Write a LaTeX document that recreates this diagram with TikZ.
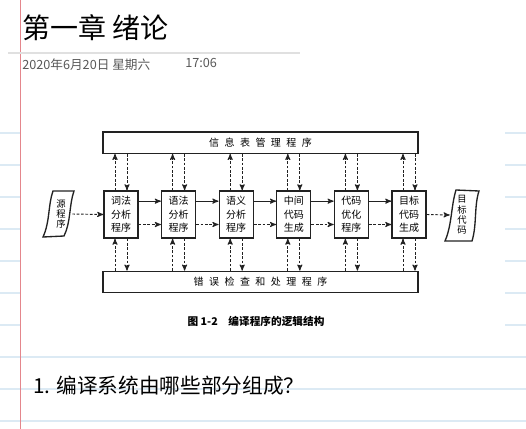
\documentclass[tikz,border=0pt]{standalone}
\usepackage{fontspec}
\setmainfont{Noto Sans CJK SC}
\usetikzlibrary{arrows,positioning}

\definecolor{rule}{HTML}{DCEAF4}
\definecolor{margin}{HTML}{E4868C}
\definecolor{ink}{HTML}{222222}
\newcommand{\chgap}{\hspace{4.1pt}}

\begin{document}
\begin{tikzpicture}[x=0.75pt, y=-0.75pt, >=stealth', node distance=16.7pt,
    stage/.style={draw=ink, line width=1pt, minimum width=25.5pt, minimum height=35.25pt,
        inner sep=0pt, align=center, font=\fontsize{7.5}{10}\selectfont},
    store/.style={draw=ink, line width=1pt, minimum width=236.25pt, minimum height=16pt,
        inner sep=0pt, font=\fontsize{7.5}{9}\selectfont},
    doc/.style={inner sep=0pt, align=center, font=\fontsize{7}{7.8}\selectfont},
    flow/.style={->, ink, line width=0.7pt, dash pattern=on 2pt off 1.3pt},
    ctrl/.style={->, ink, line width=0.7pt}]

    \useasboundingbox (0,0) rectangle (526,429);
    \fill [white] (0,0) rectangle (526,429);

    % Page {rules, margin}
    \foreach \y in {133,165,...,325} {
        \draw [rule, line width=0.9pt] (0,\y) -- (20,\y);
        \draw [rule, line width=0.9pt] (505,\y) -- (526,\y);
    }
    \foreach \y in {357,389,421}
        \draw [rule, line width=0.9pt] (0,\y) -- (526,\y);
    \draw [margin, line width=0.9pt] (20.5,0) -- (20.5,429);
    \draw [black!12, line width=0.9pt] (8,53) -- (300,53);

    \node [anchor=west, inner sep=0pt, font=\fontsize{21}{21}\selectfont] (title) at (22,28) {第一章 绪论};
    \node [anchor=west, inner sep=0pt, text=black!65, font=\fontsize{9.5}{9.5}\selectfont] (date) at (22,65) {2020年6月20日 星期六};
    \node [anchor=west, inner sep=0pt, text=black!65, font=\fontsize{9.5}{9.5}\selectfont] (time) at (185,63) {17:06};

    % Nodes {info, b1 ... b6, err}
    \node [store]   (info)                  at (260.5,142.5) {信\chgap 息\chgap 表\chgap 管\chgap 理\chgap 程\chgap 序};
    \node [stage]   (b1)                    at (121,214.5)   {词法\\分析\\程序};
    \node [stage]   (b2)  [right=of b1]     {语法\\分析\\程序};
    \node [stage]   (b3)  [right=of b2]     {语义\\分析\\程序};
    \node [stage]   (b4)  [right=of b3]     {中间\\代码\\生成};
    \node [stage]   (b5)  [right=of b4]     {代码\\优化\\程序};
    \node [stage]   (b6)  [right=of b5]     {目标\\代码\\生成};
    \node [store]   (err)                   at (260.5,282)   {错\chgap 误\chgap 检\chgap 查\chgap 和\chgap 处\chgap 理\chgap 程\chgap 序};

    \node [doc, minimum width=16.5pt] (src) at (61,214) {源\\程\\序};
    \node [doc, minimum width=18pt]   (tgt) at (462,215) {目\\标\\代\\码};
    \draw [ink, line width=1pt] (53,191) -- (74,191)
        .. controls (69,205) and (71,222) .. (64,236) -- (43,237)
        .. controls (50,222) and (48,205) .. cycle;
    \draw [ink, line width=1pt] (456,190) -- (479,191)
        .. controls (474,206) and (477,225) .. (472,241) -- (445,241)
        .. controls (452,225) and (451,206) .. cycle;

    % Paths
    \path [flow] (src.east) edge (b1.west);
    \foreach \a/\b in {b1/b2,b2/b3,b3/b4,b4/b5,b5/b6} {
        \path [ctrl] ([yshift=10pt]\a.east)   edge ([yshift=10pt]\b.west);
        \path [flow] ([yshift=-7.5pt]\a.east) edge ([yshift=-7.5pt]\b.west);
    }
    \path [flow] (b6.east) edge (tgt.west);

    \foreach \b in {b1,b2,b3,b4,b5,b6} {
        \path [flow] ([xshift=-4.5pt]\b.north)           edge ([xshift=-4.5pt]\b.north |- info.south);
        \path [flow] ([xshift=4.5pt]\b.north |- info.south) edge ([xshift=4.5pt]\b.north);
        \path [flow] ([xshift=-4.5pt]\b.south |- err.north)  edge ([xshift=-4.5pt]\b.south);
        \path [flow] ([xshift=4.5pt]\b.south)            edge ([xshift=4.5pt]\b.south |- err.north);
    }

    \node [font=\fontsize{8}{8}\selectfont\bfseries] (cap) at (256,321) {图 1-2\quad 编译程序的逻辑结构};
    \node [anchor=west, inner sep=0pt, font=\fontsize{15.5}{15.5}\selectfont] (q) at (33,386) {1. 编译系统由哪些部分组成？};

\end{tikzpicture}
\end{document}
